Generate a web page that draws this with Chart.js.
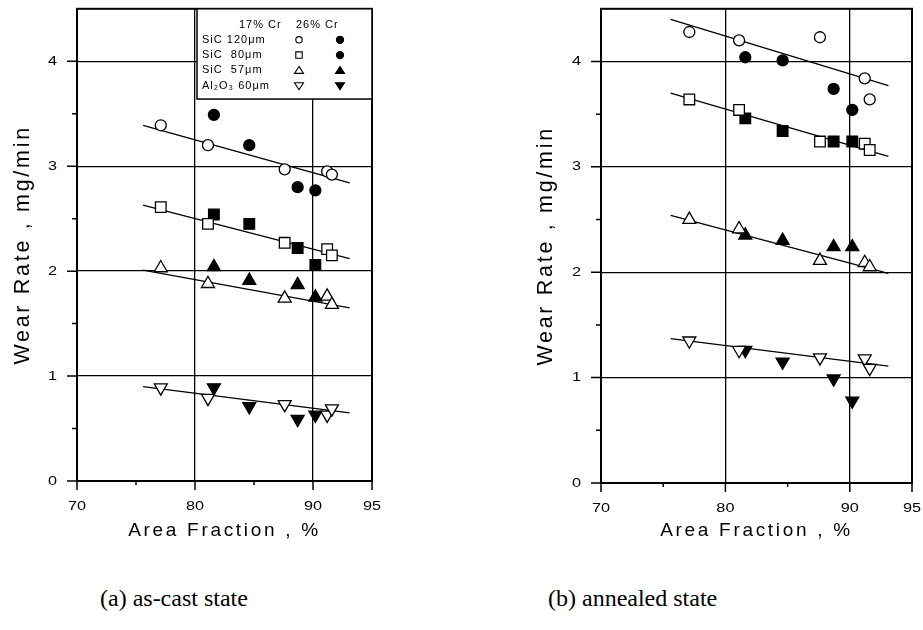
<!DOCTYPE html>
<html>
<head>
<meta charset="utf-8">
<script src="https://cdn.jsdelivr.net/npm/chart.js@4.4.0/dist/chart.umd.min.js"></script>
<style>
    body { margin: 0; background: #fff; width: 923px; height: 630px; position: relative; overflow: hidden; }
    .panel { position: absolute; top: 0; height: 560px; }
    #panelA { left: 0; width: 392px; }
    #panelB { left: 520px; width: 403px; }
    .caption { position: absolute; top: 585px; font-family: "Liberation Serif", "Times New Roman", serif; font-size: 24px; color: #000; }
</style>
</head>
<body>
<div class="panel" id="panelA"><canvas id="chartA"></canvas></div>
<div class="panel" id="panelB"><canvas id="chartB"></canvas></div>
<div class="caption" style="left:100px">(a) as-cast state</div>
<div class="caption" style="left:548px">(b) annealed state</div>
<script>
// area fraction (%) of the 17% Cr and 26% Cr alloys
const areaFrac17 = [77.1, 81.1, 87.6, 91.2, 91.6];
const areaFrac26 = [81.6, 84.6, 88.7, 90.2];
const fitX = [75.6, 93.1];

// (a) as-cast state, wear rate mg/min
const castSiC120_17 = [3.39, 3.20, 2.97, 2.95, 2.92];
const castSiC120_26 = [3.49, 3.20, 2.80, 2.77];
const castSiC80_17 = [2.61, 2.45, 2.27, 2.21, 2.15];
const castSiC80_26 = [2.54, 2.45, 2.22, 2.06];
const castSiC57_17 = [2.03, 1.88, 1.74, 1.76, 1.68];
const castSiC57_26 = [2.04, 1.91, 1.87, 1.75];
const castAl60_17 = [0.89, 0.79, 0.73, 0.63, 0.69];
const castAl60_26 = [0.89, 0.71, 0.59, 0.63];
const castFit120 = [3.39, 2.84];
const castFit80 = [2.63, 2.12];
const castFit57 = [2.01, 1.65];
const castFitAl = [0.90, 0.65];

// (b) annealed state
const annSiC120_17 = [4.28, 4.20, 4.23, 3.84, 3.64];
const annSiC120_26 = [4.04, 4.01, 3.74, 3.54];
const annSiC80_17 = [3.64, 3.54, 3.24, 3.22, 3.16];
const annSiC80_26 = [3.46, 3.34, 3.24, 3.24];
const annSiC57_17 = [2.50, 2.41, 2.11, 2.09, 2.05];
const annSiC57_26 = [2.35, 2.30, 2.24, 2.24];
const annAl60_17 = [1.35, 1.26, 1.19, 1.18, 1.09];
const annAl60_26 = [1.26, 1.15, 0.99, 0.78];
const annFit120 = [4.40, 3.77];
const annFit80 = [3.70, 3.10];
const annFit57 = [2.54, 1.99];
const annFitAl = [1.37, 1.11];

// axis ticks
const xMajorTicks = [70, 80, 90, 95];
const xMinorTicks = [75, 85];
const yMajorTicks = [0, 1, 2, 3, 4];
const yMinorTicks = [0.5, 1.5, 2.5, 3.5];

const legendRows = ['SiC 120\u03bcm', 'SiC  80\u03bcm', 'SiC  57\u03bcm', 'Al\u2082O\u2083 60\u03bcm'];

const FONT = '"Liberation Sans", Arial, Helvetica, sans-serif';
Chart.defaults.font.family = FONT;
Chart.defaults.color = '#000';

function points(xs, ys) {
    return xs.map((x, i) => ({ x: x, y: ys[i] }));
}

function markers(xs, ys, style, filled, radius, rotation) {
    return {
        data: points(xs, ys),
        showLine: false,
        pointStyle: style,
        pointRotation: rotation || 0,
        pointRadius: radius,
        pointHoverRadius: radius,
        pointBackgroundColor: filled ? '#000' : '#fff',
        pointBorderColor: '#000',
        pointBorderWidth: 1.3,
        order: 0
    };
}

function fitLine(ys) {
    return {
        data: points(fitX, ys),
        showLine: true,
        borderColor: '#000',
        borderWidth: 1.3,
        pointRadius: 0,
        order: 1
    };
}

// open marks = 17% Cr, filled marks = 26% Cr
function buildDatasets(s) {
    return [
        fitLine(s.fit120), fitLine(s.fit80), fitLine(s.fit57), fitLine(s.fitAl),
        markers(areaFrac17, s.c120, 'circle', false, 5.5),
        markers(areaFrac26, s.f120, 'circle', true, 5.5),
        markers(areaFrac17, s.c80, 'rect', false, 7.5),
        markers(areaFrac26, s.f80, 'rect', true, 7.5),
        markers(areaFrac17, s.c57, 'triangle', false, 7.5),
        markers(areaFrac26, s.f57, 'triangle', true, 7.5),
        markers(areaFrac17, s.cAl, 'triangle', false, 7.5, 180),
        markers(areaFrac26, s.fAl, 'triangle', true, 7.5, 180)
    ];
}

// the scanned figure has wide, stretched lettering
const spacing = {
    id: 'spacing',
    beforeDraw(chart) { chart.ctx.letterSpacing = '2.7px'; }
};

function wideText(ctx, text, x, y, align) {
    ctx.save();
    ctx.translate(x, y);
    ctx.scale(1.25, 1);
    ctx.textAlign = align;
    ctx.fillText(text, 0, 0);
    ctx.restore();
}

// plot frame, tick marks and tick labels
const frame = {
    id: 'frame',
    afterDraw(chart) {
        const { ctx, chartArea: a, scales: { x, y } } = chart;
        ctx.save();
        ctx.strokeStyle = '#000';
        ctx.lineWidth = 2;
        ctx.strokeRect(a.left, a.top, a.right - a.left, a.bottom - a.top);
        ctx.lineWidth = 1.5;
        ctx.beginPath();
        xMajorTicks.forEach(v => { const p = x.getPixelForValue(v); ctx.moveTo(p, a.bottom); ctx.lineTo(p, a.bottom + 9); });
        xMinorTicks.forEach(v => { const p = x.getPixelForValue(v); ctx.moveTo(p, a.bottom); ctx.lineTo(p, a.bottom + 4); });
        yMajorTicks.forEach(v => { const p = y.getPixelForValue(v); ctx.moveTo(a.left, p); ctx.lineTo(a.left - 10, p); });
        yMinorTicks.forEach(v => { const p = y.getPixelForValue(v); ctx.moveTo(a.left, p); ctx.lineTo(a.left - 5, p); });
        ctx.stroke();

        ctx.letterSpacing = '0px';
        ctx.fillStyle = '#000';
        ctx.font = '13px ' + FONT;
        ctx.textBaseline = 'middle';
        xMajorTicks.forEach(v => wideText(ctx, String(v), x.getPixelForValue(v), a.bottom + 25, 'center'));
        yMajorTicks.forEach(v => wideText(ctx, String(v), a.left - 20, y.getPixelForValue(v), 'right'));
        ctx.restore();
    }
};

function legendMark(ctx, style, filled, cx, cy) {
    ctx.beginPath();
    if (style === 'circle') {
        ctx.arc(cx, cy, filled ? 3.6 : 3.2, 0, Math.PI * 2);
    } else if (style === 'rect') {
        ctx.rect(cx - 3.2, cy - 3.2, 6.4, 6.4);
    } else if (style === 'up') {
        ctx.moveTo(cx, cy - 4); ctx.lineTo(cx + 4.5, cy + 3); ctx.lineTo(cx - 4.5, cy + 3); ctx.closePath();
    } else {
        ctx.moveTo(cx, cy + 4); ctx.lineTo(cx + 4.5, cy - 3); ctx.lineTo(cx - 4.5, cy - 3); ctx.closePath();
    }
    ctx.fillStyle = filled ? '#000' : '#fff';
    ctx.fill();
    ctx.stroke();
}

const crLegend = {
    id: 'crLegend',
    afterDraw(chart, args, opts) {
        if (!opts.show) return;
        const { ctx, chartArea: a, scales: { x, y } } = chart;
        const left = x.getPixelForValue(80) + 2;
        const bottom = y.getPixelForValue(3.64);
        ctx.save();
        ctx.fillStyle = '#fff';
        ctx.fillRect(left, a.top, a.right - left, bottom - a.top);
        ctx.strokeStyle = '#000';
        ctx.lineWidth = 1.5;
        ctx.strokeRect(left, a.top, a.right - left, bottom - a.top);
        ctx.letterSpacing = '1px';
        ctx.font = '11px ' + FONT;
        ctx.fillStyle = '#000';
        ctx.textAlign = 'left';
        ctx.textBaseline = 'middle';
        ctx.fillText('17% Cr', left + 42, a.top + 16);
        ctx.fillText('26% Cr', left + 99, a.top + 16);
        const openStyles = ['circle', 'rect', 'up', 'down'];
        const fillStyles = ['circle', 'circle', 'up', 'down'];
        ctx.lineWidth = 1.1;
        legendRows.forEach((label, i) => {
            const ry = a.top + 31 + i * 15.3;
            ctx.fillStyle = '#000';
            ctx.fillText(label, left + 5, ry);
            legendMark(ctx, openStyles[i], false, left + 102, ry);
            legendMark(ctx, fillStyles[i], true, left + 143, ry);
        });
        ctx.restore();
    }
};

function makeChart(id, datasets, axisWidth, axisHeight, padRight, yTitlePad, showLegend) {
    return new Chart(document.getElementById(id), {
        type: 'scatter',
        data: { datasets: datasets },
        options: {
            responsive: true,
            maintainAspectRatio: false,
            animation: false,
            layout: { padding: { top: 8, right: padRight, left: 0, bottom: 0 } },
            plugins: {
                legend: { display: false },
                tooltip: { enabled: false },
                crLegend: { show: showLegend }
            },
            scales: {
                x: {
                    type: 'linear',
                    min: 70,
                    max: 95,
                    afterFit: s => { s.height = axisHeight; },
                    border: { display: true, color: '#000', width: 2 },
                    grid: {
                        drawTicks: false,
                        lineWidth: 1.3,
                        color: c => (c.tick.value === 80 || c.tick.value === 90) ? '#000' : 'rgba(0,0,0,0)'
                    },
                    ticks: { stepSize: 5, display: false },
                    title: {
                        display: true,
                        text: 'Area Fraction , %',
                        font: { size: 19 },
                        padding: { top: 0, bottom: 18 }
                    }
                },
                y: {
                    type: 'linear',
                    min: 0,
                    max: 4.5,
                    afterFit: s => { s.width = axisWidth; },
                    border: { display: true, color: '#000', width: 2 },
                    grid: {
                        drawTicks: false,
                        lineWidth: 1.3,
                        color: c => (yMajorTicks.includes(c.tick.value) && c.tick.value > 0) ? '#000' : 'rgba(0,0,0,0)'
                    },
                    ticks: { stepSize: 0.5, display: false },
                    title: {
                        display: true,
                        text: 'Wear Rate , mg/min',
                        font: { size: 21.5 },
                        padding: { top: yTitlePad, bottom: 0 }
                    }
                }
            }
        },
        plugins: [spacing, frame, crLegend]
    });
}

const chartA = makeChart('chartA', buildDatasets({
    c120: castSiC120_17, f120: castSiC120_26, c80: castSiC80_17, f80: castSiC80_26,
    c57: castSiC57_17, f57: castSiC57_26, cAl: castAl60_17, fAl: castAl60_26,
    fit120: castFit120, fit80: castFit80, fit57: castFit57, fitAl: castFitAl
}), 77, 79, 20, 10, true);

const chartB = makeChart('chartB', buildDatasets({
    c120: annSiC120_17, f120: annSiC120_26, c80: annSiC80_17, f80: annSiC80_26,
    c57: annSiC57_17, f57: annSiC57_26, cAl: annAl60_17, fAl: annAl60_26,
    fit120: annFit120, fit80: annFit80, fit57: annFit57, fitAl: annFitAl
}), 81, 77, 11, 13, false);
</script>
</body>
</html>
